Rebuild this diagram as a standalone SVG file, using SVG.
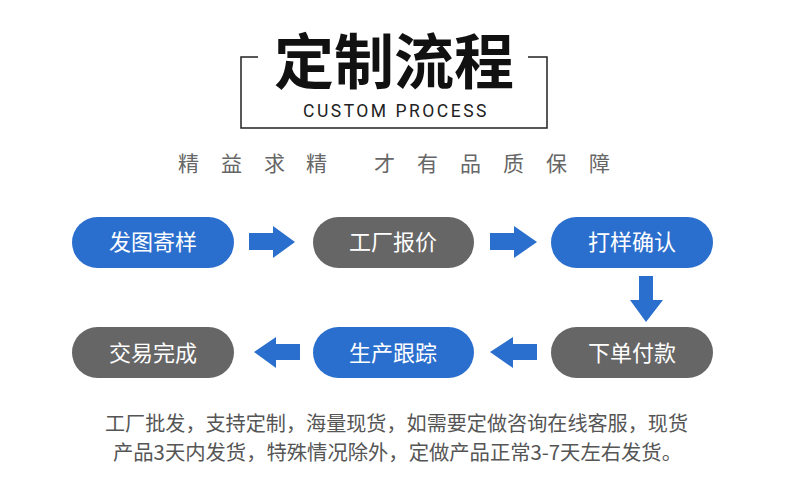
<svg xmlns="http://www.w3.org/2000/svg" width="790" height="492" viewBox="0 0 790 492">
<style>
.cjk{font-family:"Noto Sans CJK SC","Noto Sans",sans-serif}
.pill-t{font-family:"Noto Sans CJK SC","Noto Sans",sans-serif;font-size:22px;fill:#fff;text-anchor:middle}
.blue{fill:#2b6fce}
.gray{fill:#666666}
.arr{fill:#2b6fce}
</style>
<rect width="790" height="492" fill="#fff"/>
<g id="title">
<path d="M258 57 H241 V128 H547 V57 H528" fill="none" stroke="#222" stroke-width="1.5"/>
<text x="394" y="84" class="cjk" font-size="60" font-weight="bold" text-anchor="middle" fill="#111">定制流程</text>
<text x="396" y="117" font-family="Roboto,'Liberation Sans',sans-serif" font-size="17.5" letter-spacing="2.5" text-anchor="middle" fill="#222">CUSTOM PROCESS</text>
</g>
<text y="171" class="cjk" font-size="21" fill="#666"><tspan x="178">精</tspan><tspan x="221">益</tspan><tspan x="264">求</tspan><tspan x="306">精</tspan><tspan x="374">才</tspan><tspan x="417">有</tspan><tspan x="460">品</tspan><tspan x="503">质</tspan><tspan x="546">保</tspan><tspan x="589">障</tspan></text>
<g id="n1"><rect x="72" y="217" width="162" height="51" rx="25.5" class="blue"/><text x="153" y="250" class="pill-t">发图寄样</text></g>
<g id="n2"><rect x="313" y="217" width="161" height="51" rx="25.5" class="gray"/><text x="393" y="250" class="pill-t">工厂报价</text></g>
<g id="n3"><rect x="551" y="217" width="162" height="51" rx="25.5" class="blue"/><text x="632" y="250" class="pill-t">打样确认</text></g>
<g id="n4"><rect x="551" y="327" width="162" height="51" rx="25.5" class="gray"/><text x="632" y="361" class="pill-t">下单付款</text></g>
<g id="n5"><rect x="313" y="327" width="161" height="51" rx="25.5" class="blue"/><text x="393" y="361" class="pill-t">生产跟踪</text></g>
<g id="n6"><rect x="72" y="327" width="162" height="51" rx="25.5" class="gray"/><text x="153" y="361" class="pill-t">交易完成</text></g>
<g id="connectors">
<polygon class="arr" points="249,233 273,233 273,226 295,242 273,258 273,250 249,250"/>
<polygon class="arr" points="490,233 514,233 514,226 537,242 514,258 514,250 490,250"/>
<polygon class="arr" points="639,276 653,276 653,300 663,300 646,322 630,300 639,300"/>
<polygon class="arr" points="537,344 513,344 513,337 490,352 513,368 513,360 537,360"/>
<polygon class="arr" points="300,344 276,344 276,337 254,352 276,368 276,360 300,360"/>
</g>
<g id="note" class="cjk" font-size="20" fill="#555">
<text x="105" y="431" textLength="583" lengthAdjust="spacingAndGlyphs">工厂批发，支持定制，海量现货，如需要定做咨询在线客服，现货</text>
<text x="113" y="460" textLength="569" lengthAdjust="spacingAndGlyphs">产品3天内发货，特殊情况除外，定做产品正常3-7天左右发货。</text>
</g>
</svg>
